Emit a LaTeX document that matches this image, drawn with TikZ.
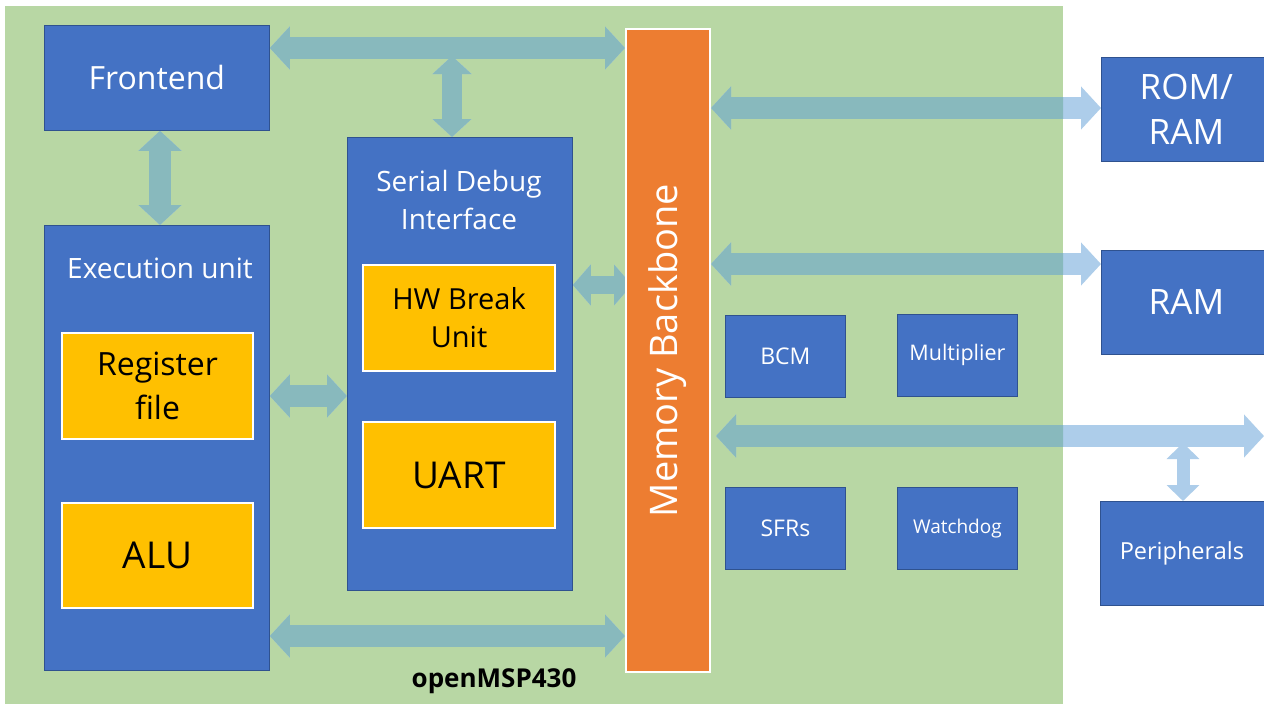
\documentclass[tikz,border=0pt]{standalone}
\usepackage{fontspec}
\setmainfont{Open Sans}
\usetikzlibrary{arrows.meta}
\definecolor{bgreen}{RGB}{184,215,164}
\definecolor{boxblue}{RGB}{68,114,196}
\definecolor{boxedge}{RGB}{47,82,143}
\definecolor{yel}{RGB}{255,192,0}
\definecolor{org}{RGB}{237,125,49}
\definecolor{arrin}{RGB}{136,185,189}
\definecolor{arrout}{RGB}{173,205,234}
\pgfdeclarelayer{bglayer}
\pgfdeclarelayer{arrlayer}
\pgfsetlayers{bglayer,arrlayer,main}
\newcommand\fs[2]{\fontsize{#1}{#2}\selectfont}
\newcommand\busarrows[1]{%
  \draw[barr,color=#1] (fe.east |- ytop) -- (mb.west |- ytop);
  \draw[barrv,color=#1] (vtop) -- (sdi.north -| vtop);
  \draw[barr,color=#1] (fe.south -| xfe) -- (eu.north -| xfe);
  \draw[barr,color=#1] (eu.east |- yeu) -- (sdi.west |- yeu);
  \draw[barrs,color=#1] (sdi.east |- ydbg) -- (mbleft |- ydbg);
  \draw[barr,color=#1] (eu.east |- ybot) -- (mb.west |- ybot);
  \draw[barr,color=#1] (mb.east |- yrom) -- (rom.west |- yrom);
  \draw[barr,color=#1] (mb.east |- yram) -- (ram.west |- yram);
  \draw[barr,color=#1] (mbright |- yper) -- (redge);
  \draw[barrp,color=#1] (ptop) -- (per.north -| ptop);
}
\begin{document}
\begin{tikzpicture}[x=1pt,y=-1pt,
  bbox/.style={draw=boxedge, line width=0.8pt, fill=boxblue, text=white, align=center, inner sep=0pt, anchor=north west},
  ybox/.style={draw=white, line width=2pt, fill=yel, text=black, align=center, inner sep=0pt, anchor=north west},
  lbl/.style={text=white, align=center, inner sep=0pt},
  barr/.style={line width=22pt, {Triangle[length=20pt,width=42pt]}-{Triangle[length=20pt,width=42pt]}},
  barrv/.style={line width=20pt, {Triangle[length=18pt,width=38pt]}-{Triangle[length=18pt,width=38pt]}},
  barrs/.style={line width=18pt, {Triangle[length=18pt,width=40pt]}-{Triangle[length=18pt,width=40pt]}},
  barrp/.style={line width=13pt, {Triangle[length=16pt,width=32pt]}-{Triangle[length=16pt,width=32pt]}},
]
\useasboundingbox (0,0) rectangle (1264,704);
\begin{pgfonlayer}{bglayer}
  \fill[white] (0,0) rectangle (1264,704);
  \fill[bgreen] (5,6) rectangle (1063,704);
\end{pgfonlayer}

% coordinates for bus levels
\coordinate (ytop) at (0,48);
\coordinate (ydbg) at (0,285);
\coordinate (yeu) at (0,396);
\coordinate (ybot) at (0,636);
\coordinate (yrom) at (0,108);
\coordinate (yram) at (0,264);
\coordinate (yper) at (0,436);
\coordinate (xfe) at (160,0);
\coordinate (vtop) at (452,56);
\coordinate (redge) at (1264,436);
\coordinate (ptop) at (1183,443);
\coordinate (mbleft) at (632,0);
\coordinate (mbright) at (716,0);

% nodes
\node[bbox, minimum width=225pt, minimum height=105pt, font=\fs{32}{40}] (fe) at (44,25) {Frontend};
\node[bbox, minimum width=225pt, minimum height=445pt] (eu) at (44,225) {};
\node[lbl, font=\fs{28}{34}] (eut) at (160,268) {Execution unit};
\node[ybox, minimum width=191pt, minimum height=106pt, font=\fs{32}{44}] (rf) at (61,332) {Register\\file};
\node[ybox, minimum width=191pt, minimum height=105pt, font=\fs{37}{44}] (alu) at (61,502) {ALU};

\node[bbox, minimum width=225pt, minimum height=453pt] (sdi) at (347,137) {};
\node[lbl, font=\fs{28}{38}] (sdit) at (459,200) {Serial Debug\\Interface};
\node[ybox, minimum width=192pt, minimum height=106pt, font=\fs{29}{38}] (hw) at (362,264) {HW Break\\Unit};
\node[ybox, minimum width=192pt, minimum height=106pt, font=\fs{37}{44}] (uart) at (362,421) {UART};

\node[draw=white, line width=2pt, fill=org, minimum width=84pt, minimum height=643pt, inner sep=0pt, anchor=north west] (mb) at (625,28) {};
\node[text=white, rotate=90, inner sep=0pt, font=\fs{38}{44}] (mbt) at (mb.center) {Memory Backbone};

\node[bbox, minimum width=120pt, minimum height=82pt, font=\fs{23}{28}] (bcm) at (725,315) {BCM};
\node[bbox, minimum width=120pt, minimum height=82pt, font=\fs{21.5}{26}] (mul) at (897,314) {Multiplier};
\node[bbox, minimum width=120pt, minimum height=82pt, font=\fs{23}{28}] (sfr) at (725,487) {SFRs};
\node[bbox, minimum width=120pt, minimum height=82pt, font=\fs{19}{24}] (wd) at (897,487) {Watchdog};

\node[bbox, minimum width=170pt, minimum height=104pt, font=\fs{35}{45}] (rom) at (1101,57) {ROM/\\RAM};
\node[bbox, minimum width=170pt, minimum height=104pt, font=\fs{35}{45}] (ram) at (1101,250) {RAM};
\node[bbox, minimum width=170pt, minimum height=104pt, font=\fs{23.5}{28}] (per) at (1100,501) {\hspace*{-7pt}Peripherals};

\node[text=black, inner sep=0pt, font=\fs{26}{30}\bfseries] (om) at (494,681) {openMSP430};

% arrows
\begin{pgfonlayer}{arrlayer}
  \busarrows{arrout}
  \begin{scope}
    \clip (5,6) rectangle (1063,704);
    \busarrows{arrin}
  \end{scope}
\end{pgfonlayer}
\end{tikzpicture}
\end{document}
